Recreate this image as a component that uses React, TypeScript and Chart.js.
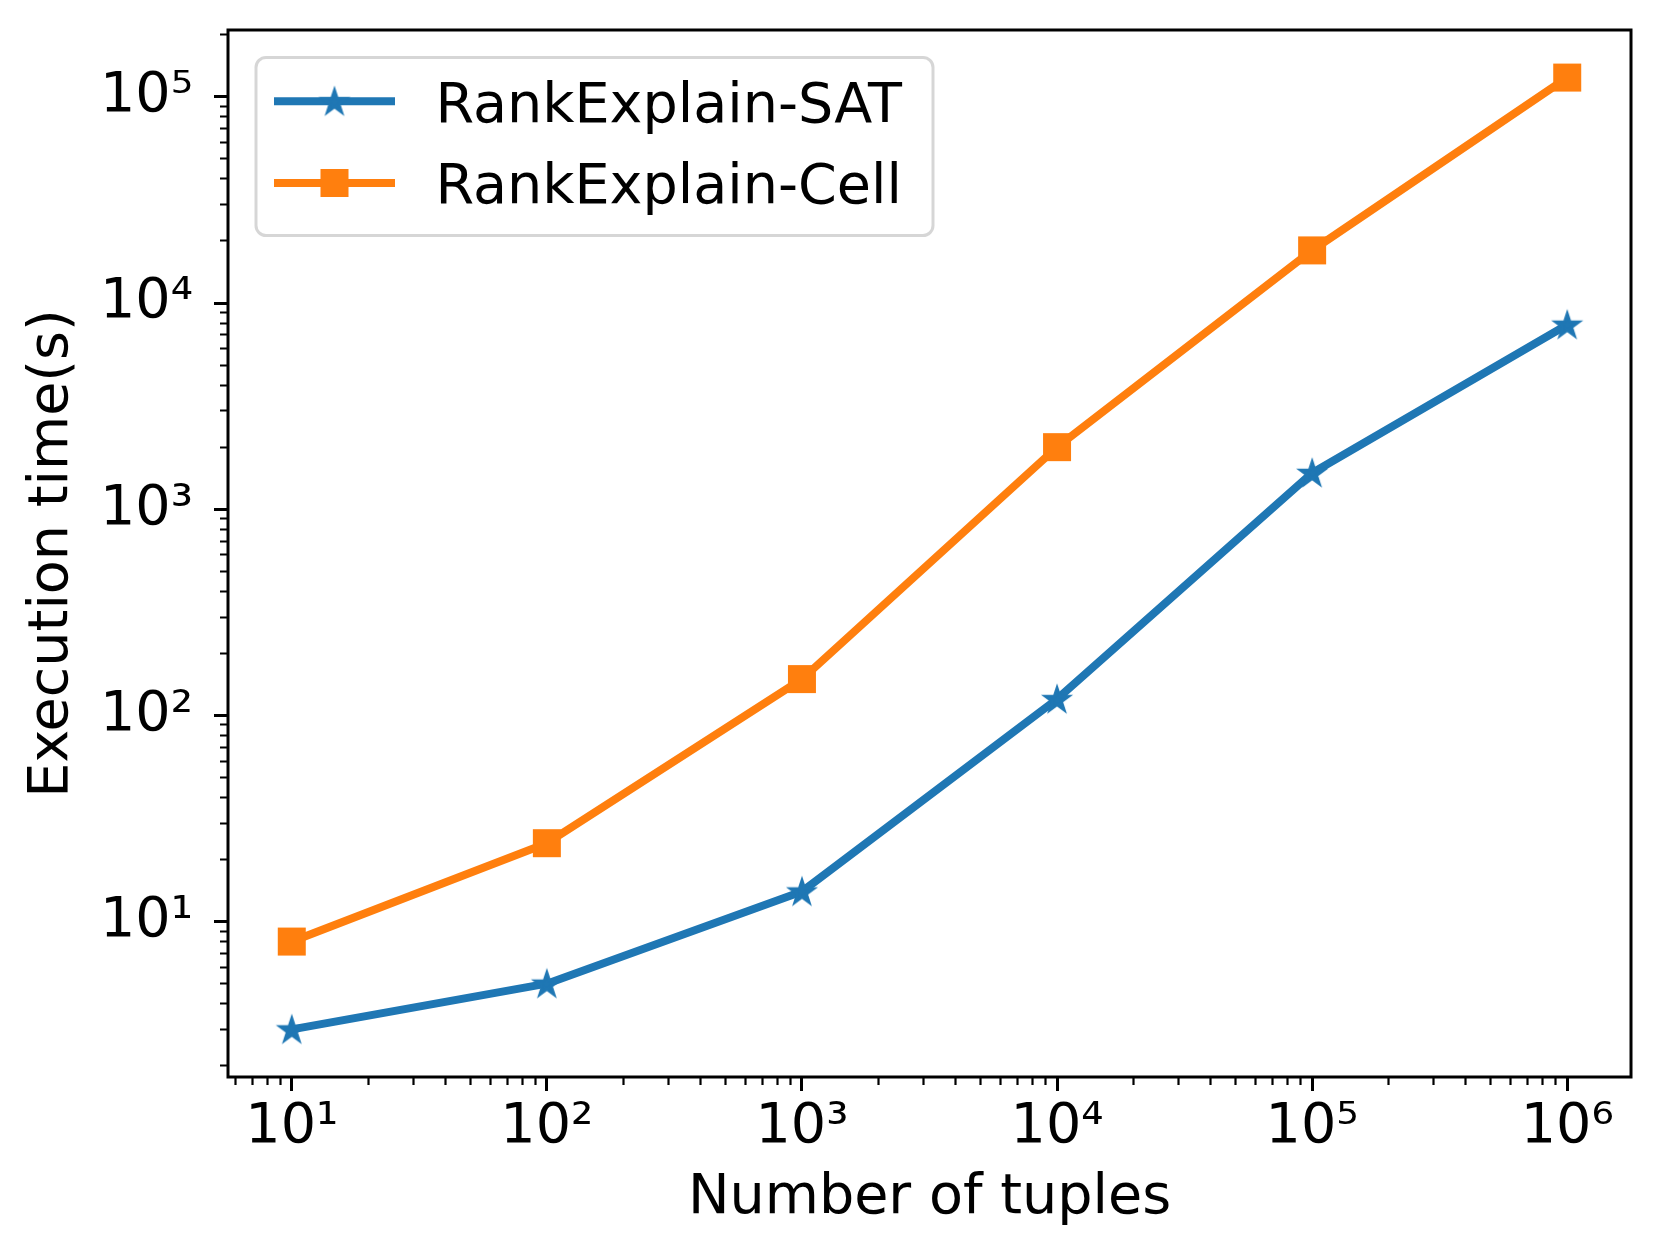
import React, { useEffect, useRef } from 'react';
import { Chart, registerables } from 'chart.js';

Chart.register(...registerables);

// ---- data ----
const tuples = [10, 100, 1000, 10000, 100000, 1000000];
const satTimes = [3, 5, 14, 120, 1500, 7850];
const cellTimes = [8, 24, 150, 2000, 18000, 124000];
const seriesLabels = ['RankExplain-SAT', 'RankExplain-Cell'];
const seriesColors = ['#1f77b4', '#ff7f0e'];
const xMajorTicks = [10, 100, 1000, 10000, 100000, 1000000];
const xTickLabels = ['10¹', '10²', '10³', '10⁴', '10⁵', '10⁶'];
const yMajorTicks = [10, 100, 1000, 10000, 100000];
const yTickLabels = ['10¹', '10²', '10³', '10⁴', '10⁵'];
const xTitle = 'Number of tuples';
const yTitle = 'Execution time(s)';

const FONT = 'DejaVu Sans';
const FS = 55.6;

function logBounds(values: number[]): [number, number] {
  const lo = Math.log10(Math.min(...values));
  const hi = Math.log10(Math.max(...values));
  const m = (hi - lo) * 0.05;
  return [Math.pow(10, lo - m), Math.pow(10, hi + m)];
}

function buildLogTicks(min: number, max: number) {
  const out: { value: number }[] = [];
  const e0 = Math.floor(Math.log10(min));
  const e1 = Math.ceil(Math.log10(max));
  for (let e = e0; e <= e1; e++) {
    for (let k = 1; k < 10; k++) {
      const v = k * Math.pow(10, e);
      if (v >= min * 0.999999 && v <= max * 1.000001) out.push({ value: v });
    }
  }
  return out;
}

function isMajor(v: number) {
  const l = Math.log10(v);
  return Math.abs(l - Math.round(l)) < 1e-6;
}

function labelFor(majors: number[], labels: string[]) {
  return (value: any) => {
    const v = Number(value);
    const i = majors.findIndex((t) => Math.abs(t - v) < 1e-6 * t);
    return i >= 0 ? labels[i] : '';
  };
}

function makeStar(color: string) {
  const c = document.createElement('canvas');
  c.width = 34;
  c.height = 34;
  const g = c.getContext('2d')!;
  const R = 12;
  const r = R * 0.381966;
  g.beginPath();
  for (let i = 0; i < 10; i++) {
    const rad = i % 2 === 0 ? R : r;
    const a = -Math.PI / 2 + (i * Math.PI) / 5;
    const px = 17 + rad * Math.cos(a);
    const py = 17 + rad * Math.sin(a) + 1;
    if (i === 0) g.moveTo(px, py);
    else g.lineTo(px, py);
  }
  g.closePath();
  g.fillStyle = color;
  g.fill();
  g.lineWidth = 3;
  g.lineJoin = 'miter';
  g.strokeStyle = color;
  g.stroke();
  return c;
}

const framePlugin = {
  id: 'mplFrame',
  afterDatasetsDraw(chart: any) {
    const { ctx, chartArea: ca } = chart;
    ctx.save();
    ctx.lineWidth = 3;
    ctx.strokeStyle = '#000';
    ctx.strokeRect(ca.left, ca.top, ca.right - ca.left, ca.bottom - ca.top);
    ctx.restore();
  },
};

const legendPlugin = {
  id: 'mplLegend',
  afterDraw(chart: any) {
    const { ctx, chartArea: ca } = chart;
    ctx.save();
    const bx = ca.left + 28;
    const by = ca.top + 27.5;
    ctx.beginPath();
    ctx.roundRect(bx, by, 677, 178, 10);
    ctx.fillStyle = 'rgba(255,255,255,0.8)';
    ctx.fill();
    ctx.lineWidth = 3;
    ctx.strokeStyle = 'rgba(204,204,204,0.8)';
    ctx.stroke();
    chart.data.datasets.forEach((ds: any, i: number) => {
      const y = ca.top + 71.3 + i * 81.7;
      ctx.beginPath();
      ctx.moveTo(ca.left + 46, y);
      ctx.lineTo(ca.left + 167, y);
      ctx.lineWidth = 8;
      ctx.lineCap = 'butt';
      ctx.strokeStyle = ds.borderColor;
      ctx.stroke();
      const mx = ca.left + 106.5;
      const ps = ds.pointStyle;
      if (ps && typeof ps === 'object') {
        ctx.drawImage(ps, mx - ps.width / 2, y - ps.height / 2, ps.width, ps.height);
      } else {
        const half = Math.SQRT1_2 * ds.pointRadius;
        ctx.fillStyle = ds.backgroundColor;
        ctx.fillRect(mx - half, y - half, 2 * half, 2 * half);
      }
      ctx.fillStyle = '#000';
      ctx.font = `${FS}px "${FONT}"`;
      ctx.textBaseline = 'alphabetic';
      ctx.textAlign = 'left';
      ctx.fillText(ds.label, ca.left + 207.5, y + 20.4);
    });
    ctx.restore();
  },
};

export default function App() {
  const ref = useRef<HTMLCanvasElement | null>(null);

  useEffect(() => {
    if (!ref.current) return;
    const star = makeStar(seriesColors[0]);
    const [xMin, xMax] = logBounds(tuples);
    const [yMin, yMax] = logBounds([...satTimes, ...cellTimes]);

    const tickGrid = (horizontal: boolean) => ({
      display: true,
      drawOnChartArea: false,
      drawTicks: true,
      tickLength: 14,
      tickColor: '#000',
      tickWidth: (c: any) => (c.tick && isMajor(c.tick.value) ? 3 : 2.2),
      tickBorderDash: (c: any) =>
        c.tick && isMajor(c.tick.value) ? [] : horizontal ? [8, 100] : [0, 6, 8, 100],
    });

    const chart = new Chart(ref.current, {
      type: 'line',
      data: {
        datasets: [
          {
            label: seriesLabels[0],
            data: tuples.map((x, i) => ({ x, y: satTimes[i] })),
            borderColor: seriesColors[0],
            backgroundColor: seriesColors[0],
            borderWidth: 8,
            borderJoinStyle: 'round',
            borderCapStyle: 'square',
            pointStyle: star as any,
            pointRadius: 12,
            pointHoverRadius: 12,
            pointBorderWidth: 0,
            tension: 0,
          },
          {
            label: seriesLabels[1],
            data: tuples.map((x, i) => ({ x, y: cellTimes[i] })),
            borderColor: seriesColors[1],
            backgroundColor: seriesColors[1],
            borderWidth: 8,
            borderJoinStyle: 'round',
            borderCapStyle: 'square',
            pointStyle: 'rect',
            pointRadius: 19.8,
            pointHoverRadius: 19.8,
            pointBorderWidth: 0,
            tension: 0,
          },
        ],
      },
      options: {
        animation: false,
        responsive: false,
        devicePixelRatio: 1,
        events: [],
        layout: { padding: { top: 30, right: 30, bottom: 0, left: 0 } },
        plugins: { legend: { display: false }, tooltip: { enabled: false } },
        scales: {
          x: {
            type: 'logarithmic',
            position: 'bottom',
            min: xMin,
            max: xMax,
            afterBuildTicks: (s: any) => {
              s.ticks = buildLogTicks(s.min, s.max);
            },
            afterFit: (s: any) => {
              s.height = 179;
              s.paddingLeft = 0;
              s.paddingRight = 0;
              s.paddingTop = 0;
              s.paddingBottom = 0;
            },
            border: { display: false },
            grid: tickGrid(true) as any,
            ticks: {
              autoSkip: false,
              maxRotation: 0,
              minRotation: 0,
              padding: 3,
              color: '#000',
              font: { family: FONT, size: FS },
              callback: labelFor(xMajorTicks, xTickLabels),
            },
            title: {
              display: true,
              text: xTitle,
              color: '#000',
              font: { family: FONT, size: FS },
              padding: { top: 0, bottom: 24 },
            },
          },
          y: {
            type: 'logarithmic',
            position: 'left',
            min: yMin,
            max: yMax,
            afterBuildTicks: (s: any) => {
              s.ticks = buildLogTicks(s.min, s.max);
            },
            afterFit: (s: any) => {
              s.width = 228;
              s.paddingLeft = 0;
              s.paddingRight = 0;
              s.paddingTop = 0;
              s.paddingBottom = 0;
            },
            border: { display: false },
            grid: tickGrid(false) as any,
            ticks: {
              autoSkip: false,
              padding: 21,
              color: '#000',
              font: { family: FONT, size: FS },
              callback: labelFor(yMajorTicks, yTickLabels),
            },
            title: {
              display: true,
              text: yTitle,
              color: '#000',
              font: { family: FONT, size: FS },
              padding: { top: 19, bottom: 0 },
            },
          },
        },
      } as any,
      plugins: [framePlugin, legendPlugin],
    });
    return () => chart.destroy();
  }, []);

  return (
    <div style={{ position: 'absolute', left: 0, top: 0, width: 1661, height: 1256, background: '#fff' }}>
      <canvas ref={ref} width={1661} height={1256} style={{ display: 'block' }} />
    </div>
  );
}
